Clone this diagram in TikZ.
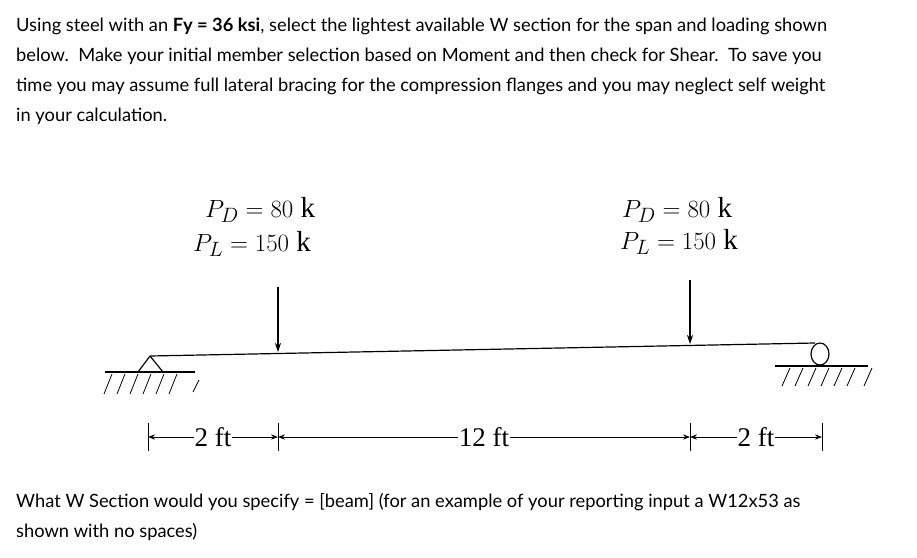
\documentclass[tikz,border=0pt]{standalone}
\usepackage{fontspec}
\setmainfont{Lato}
\newfontfamily\serifd{Liberation Serif}
\usetikzlibrary{arrows.meta,shapes.geometric}
\begin{document}
\begin{tikzpicture}[x=1pt,y=-1pt,
  para/.style={anchor=north west,align=left,inner sep=0pt,font=\fontsize{18.3}{30}\selectfont},
  load/.style={anchor=west,inner sep=0pt,font=\serifd\fontsize{29}{30}\selectfont},
  dim/.style={font=\serifd\fontsize{27}{30}\selectfont,fill=white,inner sep=1pt},
  ln/.style={line width=1.2pt},
  arr/.style={ln,-{Stealth[length=9pt,width=6pt]}},
  hatch/.style={line width=0.8pt}]
\useasboundingbox (0,0) rectangle (917,557);
\node[para] (txt) at (16,18) {Using steel with an \textbf{Fy = 36 ksi}, select the lightest available W section for the span and loading shown\\below.\ \ Make your initial member selection based on Moment and then check for Shear.\ \ To save you\\time you may assume full lateral bracing for the compression flanges and you may neglect self weight\\in your calculation.};
\node[para] (q) at (16,493) {What W Section would you specify = [beam] (for an example of your reporting input a W12x53 as\\shown with no spaces)};
% loads
\node[load] (l1) at (205,210) {$P_D = 80$ k};
\node[load] (l2) at (193,244) {$P_L = 150$ k};
\node[load] (r1) at (622,210) {$P_D = 80$ k};
\node[load] (r2) at (620,242) {$P_L = 150$ k};
% beam
\coordinate (bl) at (150,356);
\coordinate (br) at (815,343);
\draw[ln] (bl) -- (br);
\coordinate (a1s) at (278,287); \coordinate (a1e) at (278,352);
\coordinate (a2s) at (690,280); \coordinate (a2e) at (690,344);
\draw[arr] (a1s) -- (a1e);
\draw[arr] (a2s) -- (a2e);
% left pin
\draw[ln] (bl) -- (138,372) (bl) -- (163,372);
\draw[ln] (105,372) -- (195,372);
\foreach \x in {112,125,138,151,164,177} \draw[hatch] (\x,374) -- (\x-8,394);
\draw[hatch] (199,380) -- (193,392);
% right roller
\node[draw,ln,ellipse,minimum width=18pt,minimum height=22pt,inner sep=0pt] (rc) at (820,354) {};
\draw[ln] (775,366) -- (868,366);
\foreach \x in {790,803,816,829,842,855} \draw[hatch] (\x,368) -- (\x-8,386);
\draw[hatch] (872,368) -- (864,386);
% dimensions
\foreach \x in {148,278,690,822} \draw[line width=0.8pt] (\x,423) -- (\x,451);
\coordinate (d0) at (148,437); \coordinate (d1) at (278,437);
\coordinate (d2) at (690,437); \coordinate (d3) at (822,437);
\draw[line width=0.8pt,{Stealth[length=7pt]}-{Stealth[length=7pt]}] (d0) -- node[dim] {2 ft} (d1);
\draw[line width=0.8pt,{Stealth[length=7pt]}-{Stealth[length=7pt]}] (d1) -- node[dim] {12 ft} (d2);
\draw[line width=0.8pt,{Stealth[length=7pt]}-{Stealth[length=7pt]}] (d2) -- node[dim] {2 ft} (d3);
\end{tikzpicture}
\end{document}
